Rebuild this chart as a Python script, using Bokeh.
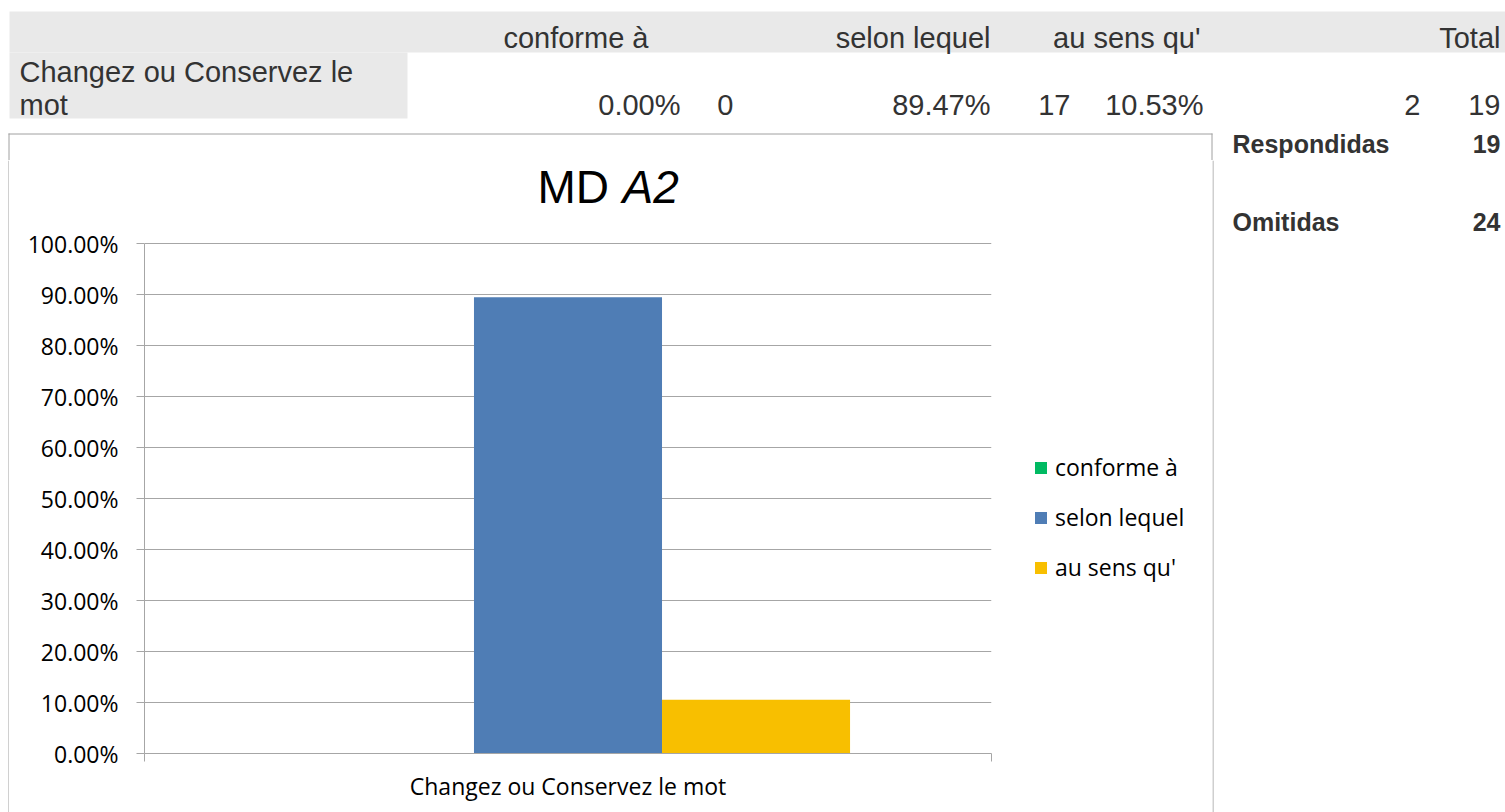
from bokeh.plotting import figure
from bokeh.layouts import column, row
from bokeh.models import (Range1d, FixedTicker, NumeralTickFormatter, Legend, LegendItem,
                          ColumnDataSource)
from bokeh.core.properties import value
from bokeh.transform import dodge
from bokeh.embed import file_html
from bokeh.resources import INLINE

# ---------------- data ----------------
categories = ["Changez ou Conservez le mot"]
series = ["conforme à", "selon lequel", "au sens qu'"]
percents = [0.0, 0.8947, 0.1053]
counts = [0, 17, 2]
total = 19
summary_labels = ["Respondidas", "Omitidas"]
summary_values = [19, 24]
y_ticks = [0.0, 0.1, 0.2, 0.3, 0.4, 0.5, 0.6, 0.7, 0.8, 0.9, 1.0]
title_parts = ["MD", "A2"]
title_styles = ["normal", "italic"]
colors = ["#00BA62", "#4F7DB5", "#F8BF00"]

# ---------------- page geometry (pixels) ----------------
W, H = 1505, 812
SPLIT = 160                 # height of the strip on top
BOX_L, BOX_T, BOX_R = 8, 133, 1212   # chart box border
FL, FR, FT, FB = 144, 991, 243, 753  # plot area (0% .. 100%) in page pixels
P_R = 1000                  # right edge of the plot canvas; legend canvas follows
ROW_H = H - SPLIT

GREY = "#A6A6A6"
BOX_GREY = "#A0A0A0"
AX_FONT = "Open Sans"
AX_SIZE = "23px"
TF = "Liberation Sans"
TC = "#333333"
BG = "#E9E9E9"


def pixel_fig(w, h):
    f = figure(width=w, height=h, output_backend="svg", toolbar_location=None,
               x_range=Range1d(0, w), y_range=Range1d(h, 0),
               x_axis_type=None, y_axis_type=None, frame_align=False,
               min_border=0, min_border_left=0, min_border_right=0,
               min_border_top=0, min_border_bottom=0)
    f.outline_line_color = None
    f.grid.visible = False
    f.background_fill_color = "white"
    f.border_fill_color = "white"
    return f


# ---------------- top strip: table + top of chart box + summary line 1 ----------------
top = pixel_fig(W, SPLIT)
top.quad(left=[9, 9], right=[W, 407], top=[11, 52], bottom=[52, 118],
         fill_color=BG, line_color=None)
top.segment(x0=[BOX_L, BOX_L + 0.5, BOX_R - 0.5], y0=[BOX_T + 0.5, BOX_T, BOX_T],
            x1=[BOX_R, BOX_L + 0.5, BOX_R - 0.5], y1=[BOX_T + 0.5, SPLIT, SPLIT],
            line_color=BOX_GREY, line_width=1)

cells_txt, cells_x, cells_y, cells_align = [], [], [], []
header_right = [648, 990, 1200]
for s, xr in zip(series, header_right):
    cells_txt.append(s); cells_x.append(xr); cells_y.append(37); cells_align.append("right")
cells_txt.append("Total"); cells_x.append(1500); cells_y.append(37); cells_align.append("right")
words = categories[0].split(" ")
cells_txt += [" ".join(words[:-1]), words[-1]]
cells_x += [19, 19]
cells_y += [71, 104]
cells_align += ["left", "left"]
pct_right = [680, 990, 1203]
cnt_right = [733, 1070, 1420]
for v, n, xp, xc in zip(percents, counts, pct_right, cnt_right):
    cells_txt += [f"{v * 100:.2f}%", str(n)]
    cells_x += [xp, xc]
    cells_y += [104, 104]
    cells_align += ["right", "right"]
cells_txt.append(str(total)); cells_x.append(1500); cells_y.append(104); cells_align.append("right")

top.text(x="x", y="y", text="t", text_align="a",
         source=ColumnDataSource(dict(x=cells_x, y=cells_y, t=cells_txt, a=cells_align)),
         text_font=value(TF), text_font_size=value("29px"), text_color=TC,
         text_baseline="middle")

summary_y = [143, 221]
top.text(x=[1232], y=[summary_y[0]], text=[summary_labels[0]], text_font=value(TF),
         text_font_size=value("25px"), text_font_style="bold", text_color=TC,
         text_align="left", text_baseline="middle")
top.text(x=[1500], y=[summary_y[0]], text=[str(summary_values[0])], text_font=value(TF),
         text_font_size=value("25px"), text_font_style="bold", text_color=TC,
         text_align="right", text_baseline="middle")

# ---------------- left strip: left edge of chart box ----------------
left = pixel_fig(BOX_L + 1, ROW_H)
left.segment(x0=[BOX_L + 0.5], y0=[0], x1=[BOX_L + 0.5], y1=[ROW_H],
             line_color=BOX_GREY, line_width=1)

# ---------------- plot ----------------
PW = P_R - (BOX_L + 1)
ncat = len(categories)
y_top = (FB - SPLIT) / (FB - FT)
p = figure(width=PW, height=ROW_H, output_backend="svg", toolbar_location=None,
           x_range=Range1d(0, ncat), y_range=Range1d(0, y_top), frame_align=False,
           min_border_left=FL - (BOX_L + 1), min_border_right=P_R - FR,
           min_border_top=0, min_border_bottom=H - FB)
p.outline_line_color = None
p.background_fill_color = "white"
p.border_fill_color = "white"


def dx(px):
    return (px - FL) / (FR - FL) * ncat


def dy(py):
    return (FB - py) / (FB - FT)


centers = [i + 0.5 for i in range(ncat)]
data = {"x": centers}
for s, v in zip(series, percents):
    data[s] = [v]
src = ColumnDataSource(data)
bw = 0.222
for j, (s, c) in enumerate(zip(series, colors)):
    p.vbar(x=dodge("x", (j - 1) * bw, range=p.x_range), top=s, width=bw,
           source=src, fill_color=c, line_color=None)

p.yaxis.ticker = FixedTicker(ticks=y_ticks)
p.yaxis.bounds = (y_ticks[0], y_ticks[-1])
p.yaxis.formatter = NumeralTickFormatter(format="0.00%")
p.yaxis.axis_line_color = GREY
p.yaxis.major_tick_line_color = GREY
p.yaxis.major_tick_out = 8
p.yaxis.major_tick_in = 0
p.yaxis.minor_tick_line_color = None
p.yaxis.major_label_standoff = 18
p.yaxis.major_label_text_font = AX_FONT
p.yaxis.major_label_text_font_size = AX_SIZE
p.yaxis.major_label_text_color = "black"

bounds = [float(i) for i in range(ncat + 1)]
p.xaxis.ticker = FixedTicker(ticks=centers, minor_ticks=bounds)
p.xaxis.major_label_overrides = {c: n for c, n in zip(centers, categories)}
p.xaxis.axis_line_color = GREY
p.xaxis.major_tick_out = 0
p.xaxis.major_tick_in = 0
p.xaxis.minor_tick_out = 8
p.xaxis.minor_tick_in = 0
p.xaxis.minor_tick_line_color = GREY
p.xaxis.major_label_standoff = 8
p.xaxis.major_label_text_font = AX_FONT
p.xaxis.major_label_text_font_size = AX_SIZE
p.xaxis.major_label_text_color = "black"

p.xgrid.visible = False
p.ygrid.ticker = FixedTicker(ticks=y_ticks)
p.ygrid.grid_line_color = GREY

# title (regular "MD" + italic "A2")
tsrc = ColumnDataSource(dict(x=[dx(537), dx(622)], y=[dy(186)] * 2,
                             t=title_parts, st=title_styles))
p.text(x="x", y="y", text="t", text_font_style="st", source=tsrc,
       text_font=value(TF), text_font_size=value("46px"), text_color="black",
       text_baseline="middle", text_align="left")

# ---------------- legend canvas (between plot and right edge of chart box) ----------------
LW = BOX_R - P_R
leg = pixel_fig(LW, ROW_H)
leg_renderers = []
for s, c in zip(series, colors):
    r = leg.vbar(x="x", top=s, width=1, source=src, fill_color=c, line_color=None)
    r.visible = False          # only its legend swatch is shown here
    leg_renderers.append(r)
legend = Legend(items=[LegendItem(label=s, renderers=[r]) for s, r in zip(series, leg_renderers)],
                location=(1033 - P_R, H - 583),
                glyph_width=15, glyph_height=15, label_standoff=7,
                label_text_font=AX_FONT, label_text_font_size=AX_SIZE,
                label_text_color="black", spacing=18, padding=0, margin=0,
                border_line_color=None, background_fill_alpha=0,
                inactive_fill_alpha=0.0)
leg.add_layout(legend, "center")

# ---------------- right strip: right edge of chart box + summary line 2 ----------------
right = pixel_fig(W - BOX_R, ROW_H)
right.segment(x0=[0.5], y0=[0], x1=[0.5], y1=[ROW_H], line_color=BOX_GREY, line_width=1)
right.text(x=[1232 - BOX_R], y=[summary_y[1] - SPLIT], text=[summary_labels[1]],
           text_font=value(TF), text_font_size=value("25px"), text_font_style="bold",
           text_color=TC, text_align="left", text_baseline="middle")
right.text(x=[1500 - BOX_R], y=[summary_y[1] - SPLIT], text=[str(summary_values[1])],
           text_font=value(TF), text_font_size=value("25px"), text_font_style="bold",
           text_color=TC, text_align="right", text_baseline="middle")

layout = column(top, row(left, p, leg, right, spacing=0), spacing=0)

open("out.html", "w").write(file_html(layout, INLINE))
